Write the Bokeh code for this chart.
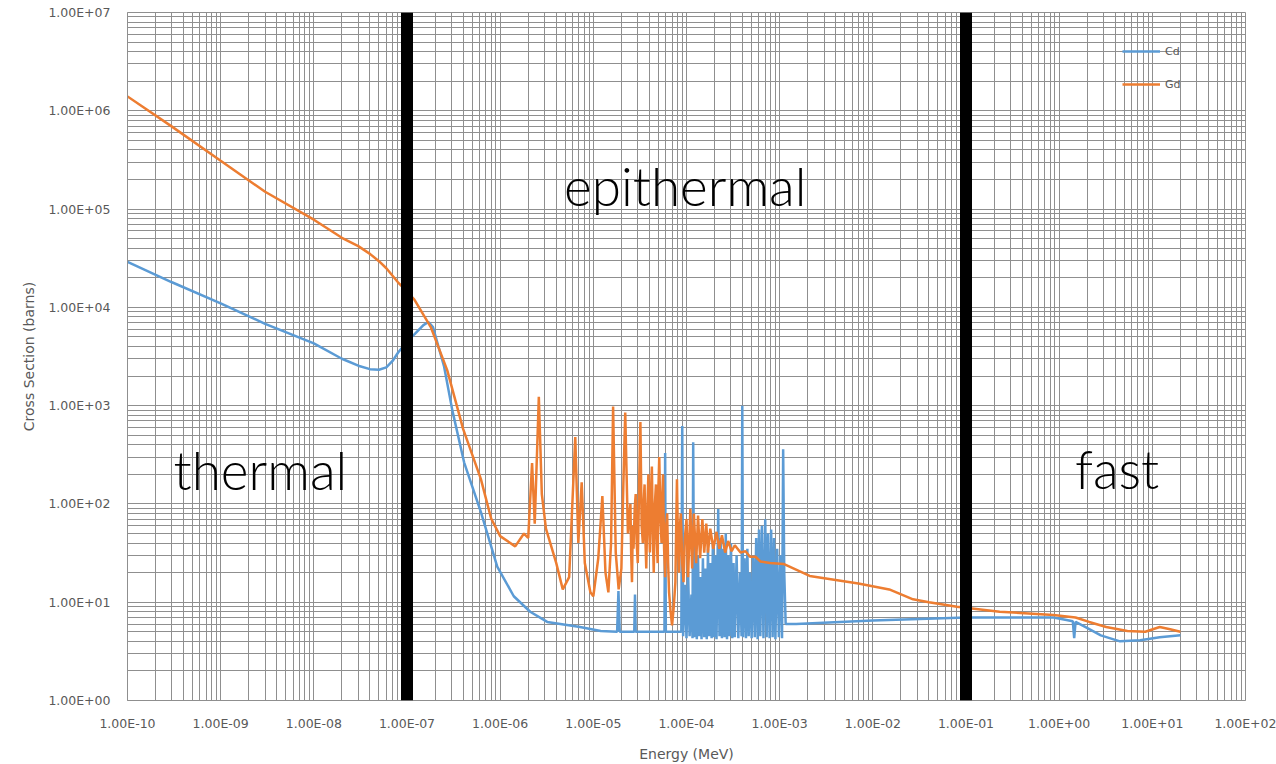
from bokeh.plotting import figure
from bokeh.models import FixedTicker, CustomJSTickFormatter, Span, ColumnDataSource
from bokeh.core.properties import value
from bokeh.embed import file_html
from bokeh.resources import INLINE

# ---------------- data (energy in MeV, cross section in barns) ----------------
cd_energy = [
    1e-10, 3e-10, 1e-9, 3e-9, 1e-8, 2e-8, 3e-8, 4e-8, 5e-8, 6e-8, 7e-8, 8e-8, 1e-7, 1.2e-7,
    1.5e-7, 1.7e-7, 1.9e-7,
    2.5e-7, 3.07e-7, 4.1e-7, 6.2e-7, 9.3e-7, 1.4e-6, 2.1e-6, 3.2e-6, 7.2e-6, 1.2e-5,
    1.8e-5, 1.86e-5, 1.92e-5, 2.75e-5, 2.8e-5, 2.85e-5, 4.05e-5,
    5.8e-5, 5.9e-5, 6.0e-5, 7.5e-5, 8.8e-5, 9.0e-5, 9.2e-5, 9.6e-5,
    1.0e-4, 1.04e-4, 1.08e-4, 1.13e-4, 1.16e-4, 1.18e-4, 1.21e-4, 1.25e-4, 1.29e-4, 1.33e-4,
    1.37e-4, 1.41e-4, 1.45e-4, 1.5e-4, 1.55e-4, 1.6e-4, 1.65e-4, 1.7e-4, 1.75e-4, 1.8e-4,
    1.86e-4, 1.92e-4, 1.98e-4, 2.04e-4, 2.1e-4, 2.19e-4, 2.26e-4, 2.33e-4, 2.4e-4, 2.48e-4,
    2.56e-4, 2.64e-4, 2.72e-4, 2.8e-4, 2.9e-4, 3.0e-4, 3.1e-4, 3.2e-4, 3.3e-4, 3.45e-4,
    3.6e-4, 3.75e-4, 3.9e-4, 3.97e-4, 4.05e-4, 4.2e-4, 4.35e-4, 4.5e-4, 4.65e-4, 4.8e-4,
    5.0e-4, 5.2e-4, 5.4e-4, 5.6e-4, 5.8e-4, 6.0e-4, 6.2e-4, 6.45e-4, 6.7e-4, 7.0e-4,
    7.25e-4, 7.5e-4, 7.8e-4, 8.1e-4, 8.4e-4, 8.7e-4, 9.0e-4, 9.4e-4, 9.8e-4, 1.02e-3,
    1.06e-3, 1.09e-3, 1.12e-3, 1.16e-3, 1.5e-3, 1e-2, 0.1, 0.23, 0.87, 1.2, 1.4, 1.45, 1.5,
    1.9, 2.8, 4.5, 7.4, 12, 20,
]
cd_sigma = [
    2.9e4, 1.8e4, 1.1e4, 6.8e3, 4.3e3, 3.0e3, 2.55e3, 2.35e3, 2.32e3, 2.45e3, 2.85e3, 3.45e3, 4.5e3, 5.3e3,
    6.6e3, 7.1e3, 6.3e3,
    2.5e3, 890, 265, 83, 23, 11.5, 8.0, 6.3, 5.6, 5.1,
    5.0, 13, 5.0, 5.0, 12, 5.0, 5.0,
    5.0, 330, 5.0, 5.0, 5.0, 620, 4.5, 15,
    4.3, 20, 4.5, 12, 4.3, 425, 4.4, 25, 4.2, 30,
    4.5, 18, 4.2, 28, 4.4, 22, 4.2, 35, 4.5, 25,
    4.3, 40, 4.4, 30, 4.2, 89, 4.5, 45, 4.3, 35,
    4.4, 50, 4.2, 30, 4.5, 40, 4.3, 25, 4.4, 30,
    4.3, 20, 4.5, 1000, 4.4, 28, 4.3, 35, 4.5, 20,
    4.3, 30, 4.4, 45, 4.2, 55, 4.5, 60, 4.3, 70,
    4.4, 50, 4.3, 55, 4.4, 45, 4.2, 35, 4.4, 30,
    4.3, 360, 20, 6.0, 6.0, 6.5, 7.0, 7.0, 7.0, 6.6, 6.4, 4.3, 6.3,
    5.6, 4.6, 4.0, 4.1, 4.4, 4.6,
]

gd_energy = [
    1e-10, 3e-10, 1e-9, 3e-9, 1e-8, 2e-8, 3e-8, 4e-8, 5e-8, 6e-8, 8e-8, 1e-7, 1.2e-7, 1.8e-7, 2.7e-7,
    4e-7, 6.2e-7, 8e-7, 1.0e-6, 1.45e-6, 1.8e-6, 2.0e-6, 2.2e-6, 2.35e-6, 2.6e-6, 2.8e-6,
    3.1e-6, 4.0e-6, 4.7e-6, 5.5e-6, 6.4e-6, 6.9e-6, 7.5e-6, 8.1e-6, 9.3e-6, 1.0e-5,
    1.13e-5, 1.25e-5, 1.35e-5, 1.45e-5, 1.55e-5, 1.63e-5, 1.74e-5, 1.87e-5, 2.0e-5, 2.1e-5,
    2.2e-5, 2.35e-5,
    2.5e-5, 2.55e-5, 2.6e-5, 2.65e-5, 2.7e-5, 2.78e-5, 2.85e-5, 2.92e-5, 3.0e-5, 3.1e-5,
    3.2e-5, 3.3e-5, 3.4e-5, 3.48e-5, 3.55e-5, 3.62e-5, 3.7e-5, 3.8e-5, 3.9e-5, 3.97e-5,
    4.05e-5, 4.15e-5, 4.25e-5, 4.35e-5, 4.45e-5, 4.58e-5, 4.7e-5, 4.8e-5, 4.9e-5, 5.0e-5,
    5.1e-5, 5.25e-5, 5.4e-5, 5.5e-5, 5.6e-5, 5.75e-5, 5.9e-5, 6.05e-5, 6.2e-5, 6.35e-5,
    6.5e-5, 6.75e-5, 7.0e-5, 7.3e-5, 7.6e-5, 7.75e-5, 7.9e-5, 8.1e-5, 8.3e-5, 8.5e-5,
    8.7e-5, 9.0e-5, 9.3e-5, 9.6e-5, 1.0e-4,
    1.04e-4, 1.1e-4, 1.15e-4, 1.2e-4, 1.27e-4, 1.33e-4, 1.4e-4, 1.48e-4, 1.55e-4, 1.63e-4,
    1.7e-4, 1.8e-4, 1.94e-4, 2.1e-4, 2.25e-4, 2.4e-4, 2.6e-4, 2.8e-4, 3.05e-4, 3.3e-4,
    3.8e-4, 4.3e-4, 4.8e-4, 5.5e-4, 6.2e-4, 7.9e-4, 1.1e-3, 2.1e-3, 7e-3, 1.5e-2, 2.7e-2,
    4e-2, 8e-2, 0.23, 0.87, 1.5, 2.1, 3.2, 5.4, 8.4, 12, 15.5, 20,
]
gd_sigma = [
    1.4e6, 6.9e5, 3.1e5, 1.5e5, 7.8e4, 5.1e4, 4.2e4, 3.5e4, 2.95e4, 2.5e4, 1.8e4, 1.45e4, 1.2e4, 6.3e3, 2.3e3,
    580, 180, 71, 47, 37, 50, 45, 260, 63, 1230, 126,
    56, 25, 13.5, 18, 480, 40, 166, 25, 12.6, 11.5,
    28, 120, 20, 12.6, 40, 980, 32, 13.5, 22, 158,
    850, 50,
    100, 30, 16, 60, 35, 90, 126, 40, 25, 150,
    680, 60, 40, 110, 158, 45, 22, 90, 200, 60,
    32, 130, 240, 50, 20, 100, 158, 45, 25, 150,
    300, 70, 40, 120, 200, 35, 18, 60, 80, 25,
    12.6, 8.0, 5.8, 9.0, 16, 60, 178, 40, 20, 60,
    80, 25, 16, 45, 70,
    18, 89, 22, 80, 25, 76, 28, 70, 32, 63,
    32, 56, 35, 52, 35, 48, 32, 42, 33, 38,
    32, 33, 29, 29, 26, 25, 24.5, 18.5, 15.5, 13.5, 10.7,
    10.0, 9.0, 8.0, 7.4, 7.0, 6.3, 5.6, 5.1, 5.0, 5.6, 5.3, 5.0,
]

x_ticks = [1e-10, 1e-9, 1e-8, 1e-7, 1e-6, 1e-5, 1e-4, 1e-3, 1e-2, 1e-1, 1e0, 1e1, 1e2]
y_ticks = [1e0, 1e1, 1e2, 1e3, 1e4, 1e5, 1e6, 1e7]
region_bounds = [1e-7, 1e-1]
region_names = ["thermal", "epithermal", "fast"]
region_label_x = [2.67e-9, 9.7e-5, 4.19]
region_label_y = [225, 1.75e5, 230]

# ---------------- figure ----------------
GRID = "#8f8f8f"
TXT = "#595959"

p = figure(width=1276, height=764, x_axis_type="log", y_axis_type="log",
           x_range=(1e-10, 1e2), y_range=(1, 1e7),
           output_backend="svg", toolbar_location=None,
           min_border_left=127, min_border_right=31, min_border_top=12, min_border_bottom=62)
p.outline_line_color = GRID
p.background_fill_color = "white"
p.border_fill_color = "white"

x_minor = [m * t for t in x_ticks[:-1] for m in range(2, 10)]
y_minor = [m * t for t in y_ticks[:-1] for m in range(2, 10)]
p.xaxis.ticker = FixedTicker(ticks=x_ticks, minor_ticks=x_minor)
p.yaxis.ticker = FixedTicker(ticks=y_ticks, minor_ticks=y_minor)

fmt = CustomJSTickFormatter(code="""
const e = Math.round(Math.log10(tick));
const s = e < 0 ? '-' : '+';
const a = Math.abs(e);
return '1.00E' + s + (a < 10 ? '0' : '') + a;
""")
for ax in (p.xaxis, p.yaxis):
    ax.formatter = fmt
    ax.major_tick_out = 0
    ax.major_tick_in = 0
    ax.minor_tick_out = 0
    ax.minor_tick_in = 0
    ax.axis_line_color = GRID
    ax.major_label_text_font = "DejaVu Sans"
    ax.major_label_text_font_size = "12.5px"
    ax.major_label_text_color = TXT
    ax.axis_label_text_font = "DejaVu Sans"
    ax.axis_label_text_font_size = "14px"
    ax.axis_label_text_font_style = "normal"
    ax.axis_label_text_color = TXT

p.xaxis.axis_label = "Energy (MeV)"
p.yaxis.axis_label = "Cross Section (barns)"
p.xaxis.major_label_standoff = 15
p.yaxis.major_label_standoff = 17
p.xaxis.axis_label_standoff = 12
p.yaxis.axis_label_standoff = 8

for g in (p.xgrid, p.ygrid):
    g.grid_line_color = GRID
    g.grid_line_width = 1
    g.minor_grid_line_color = GRID
    g.minor_grid_line_width = 1

cd = ColumnDataSource(dict(x=cd_energy, y=cd_sigma))
gd = ColumnDataSource(dict(x=gd_energy, y=gd_sigma))
p.line("x", "y", source=cd, line_color="#5B9BD5", line_width=2.5, legend_label="Cd")
p.line("x", "y", source=gd, line_color="#ED7D31", line_width=2.5, legend_label="Gd")

for b in region_bounds:
    p.add_layout(Span(location=b, dimension="height", line_color="black", line_width=12))

lab = ColumnDataSource(dict(x=region_label_x, y=region_label_y, t=region_names))
p.text("x", "y", text="t", source=lab, text_font=value("Lato Light"), text_font_size="53px",
       text_align="center", text_baseline="alphabetic", text_color="black")

lg = p.legend[0]
lg.location = (995, 606)
lg.padding = 0
lg.spacing = 13
lg.glyph_width = 38
lg.glyph_height = 20
lg.label_height = 20
lg.label_standoff = 5
lg.border_line_color = None
lg.background_fill_alpha = 0
lg.label_text_font = "DejaVu Sans"
lg.label_text_font_size = "11px"
lg.label_text_color = TXT

open("out.html", "w").write(file_html(p, INLINE))
